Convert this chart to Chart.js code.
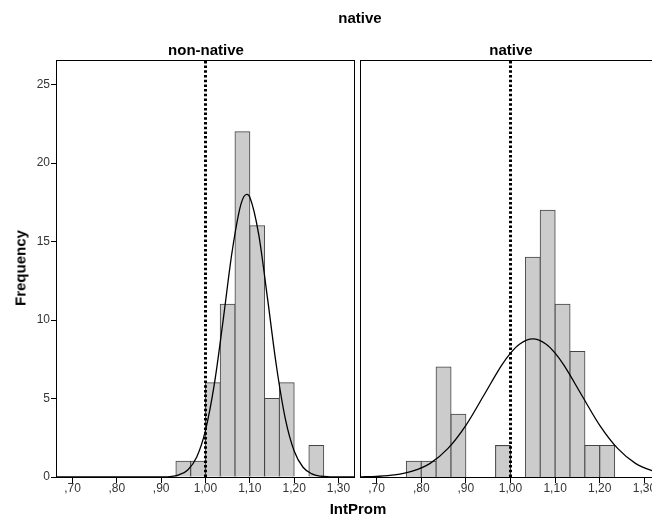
<!DOCTYPE html>
<html>
<head>
<meta charset="utf-8">
<script src="https://cdn.jsdelivr.net/npm/chart.js@4.4.1/dist/chart.umd.min.js"></script>
<style>
body{margin:0;background:#fff;}
#wrap{position:relative;width:652px;height:521px;overflow:hidden;font-family:Arial,"Liberation Sans",sans-serif;}
.t{position:absolute;font-weight:bold;font-size:15px;color:#000;white-space:nowrap;transform:translate(-50%,-50%);}
#pa{position:absolute;left:0;top:0;}
#pb{position:absolute;left:355px;top:0;}
</style>
</head>
<body>
<div id="wrap">
  <canvas id="pa" width="362" height="521"></canvas>
  <canvas id="pb" width="310" height="521"></canvas>
  <div class="t" id="title" style="left:360px;top:17px"></div>
  <div class="t" id="ta" style="left:206px;top:49px"></div>
  <div class="t" id="tb" style="left:511px;top:49px"></div>
  <div class="t" id="ylab" style="left:20px;top:268px;transform:translate(-50%,-50%) rotate(-90deg)"></div>
  <div class="t" id="xlab" style="left:358px;top:508px"></div>
</div>
<script>
// tick labels
var xTicks = [0.7, 0.8, 0.9, 1.0, 1.1, 1.2, 1.3];
var yTicks = [0, 5, 10, 15, 20, 25];
var refLine = 1.0;
var panelNames = ['non-native', 'native'];

// histogram bins (centres) and counts
var binsNon = [0.95, 0.9833, 1.0167, 1.05, 1.0833, 1.1167, 1.15, 1.1833, 1.2167, 1.25];
var countsNon = [1, 1, 6, 11, 22, 16, 5, 6, 0, 2];
var binsNat = [0.7833, 0.8167, 0.85, 0.8833, 0.9167, 0.95, 0.9833, 1.0167, 1.05, 1.0833, 1.1167, 1.15, 1.1833, 1.2167];
var countsNat = [1, 1, 7, 4, 0, 0, 2, 0, 14, 17, 11, 8, 2, 2];

// normal curves
var curveXNon = [0.665, 0.86, 0.90, 0.92, 0.94, 0.96, 0.98, 1.00, 1.02, 1.04, 1.06, 1.08, 1.093, 1.10, 1.12, 1.14, 1.16, 1.18, 1.20, 1.22, 1.24, 1.26, 1.28, 1.30, 1.335];
var curveYNon = [0, 0, 0.01, 0.03, 0.14, 0.45, 1.26, 2.97, 5.93, 10.03, 14.35, 17.38, 18.0, 17.82, 15.46, 11.36, 7.07, 3.72, 1.66, 0.62, 0.2, 0.05, 0.01, 0, 0];
var curveXNat = [0.665, 0.70, 0.74, 0.78, 0.82, 0.86, 0.90, 0.94, 0.98, 1.00, 1.02, 1.05, 1.08, 1.10, 1.12, 1.16, 1.20, 1.24, 1.28, 1.32, 1.335];
var curveYNat = [0.01, 0.04, 0.13, 0.37, 0.87, 1.82, 3.29, 5.19, 7.11, 7.89, 8.46, 8.8, 8.46, 7.89, 7.11, 5.19, 3.29, 1.82, 0.87, 0.37, 0.25];

var xMin = 0.665, xMax = 1.335, yMax = 26.5;

document.getElementById('title').textContent = 'native';
document.getElementById('ta').textContent = panelNames[0];
document.getElementById('tb').textContent = panelNames[1];
document.getElementById('ylab').textContent = 'Frequency';
document.getElementById('xlab').textContent = 'IntProm';

Chart.defaults.font.family = 'Arial, "Liberation Sans", sans-serif';
Chart.defaults.font.size = 12;
Chart.defaults.color = '#333';

var frame = {
  id: 'frame',
  afterDatasetsDraw: function(chart) {
    var a = chart.chartArea, ctx = chart.ctx;
    ctx.save();
    ctx.strokeStyle = '#000';
    ctx.lineWidth = 1;
    ctx.strokeRect(Math.round(a.left) - 0.5, Math.round(a.top) - 0.5, Math.round(a.right - a.left) + 1, Math.round(a.bottom - a.top) + 1);
    ctx.restore();
  }
};

function pts(xs, ys) {
  return xs.map(function(x, i) { return {x: x, y: ys[i]}; });
}

function fmt(v) {
  return v.toFixed(2).replace('.', ',').replace(/^0/, '');
}

function panel(id, bins, counts, cx, cy, showY, pad) {
  new Chart(document.getElementById(id), {
    type: 'bar',
    data: {
      datasets: [
        {type:'line',data:pts(cx, cy),borderColor:'#000',borderWidth:1.3,pointRadius:0,cubicInterpolationMode:'monotone',fill:false,order:0},
        {type:'line',data:[{x:refLine,y:0},{x:refLine,y:yMax}],borderColor:'#000',borderWidth:3,borderDash:[2.5,2.2],pointRadius:0,fill:false,order:1},
        {type:'bar',data:pts(bins, counts),backgroundColor:'#cccccc',borderColor:'#444',borderWidth:1,borderSkipped:'start',inflateAmount:0.5,barPercentage:1,categoryPercentage:1,order:2}
      ]
    },
    options: {
      responsive:false,animation:false,
      layout:{padding:pad},
      plugins:{legend:{display:false},tooltip:{enabled:false}},
      scales:{
        x:{type:'linear',min:xMin,max:xMax,offset:false,
           afterBuildTicks:function(s){s.ticks=xTicks.map(function(v){return {value:v};});},
           afterFit:function(s){s.height=25;},
           grid:{offset:false,drawOnChartArea:false,color:'#000',tickLength:6},border:{display:false},
           ticks:{padding:-2,maxRotation:0,autoSkip:false,callback:function(v){return fmt(v);}}},
        y:{display:showY,min:0,max:yMax,
           afterBuildTicks:function(s){s.ticks=yTicks.map(function(v){return {value:v};});},
           afterFit:function(s){s.width=showY ? 57 : 0;},
           grid:{drawOnChartArea:false,color:'#000',tickLength:6},border:{display:false},
           ticks:{padding:1}}
      }
    },
    plugins:[frame]
  });
}

panel('pa', binsNon, countsNon, curveXNon, curveYNon, true, {left:0,right:8,top:61,bottom:19});
panel('pb', binsNat, countsNat, curveXNat, curveYNat, false, {left:6,right:5,top:61,bottom:19});
</script>
</body>
</html>
